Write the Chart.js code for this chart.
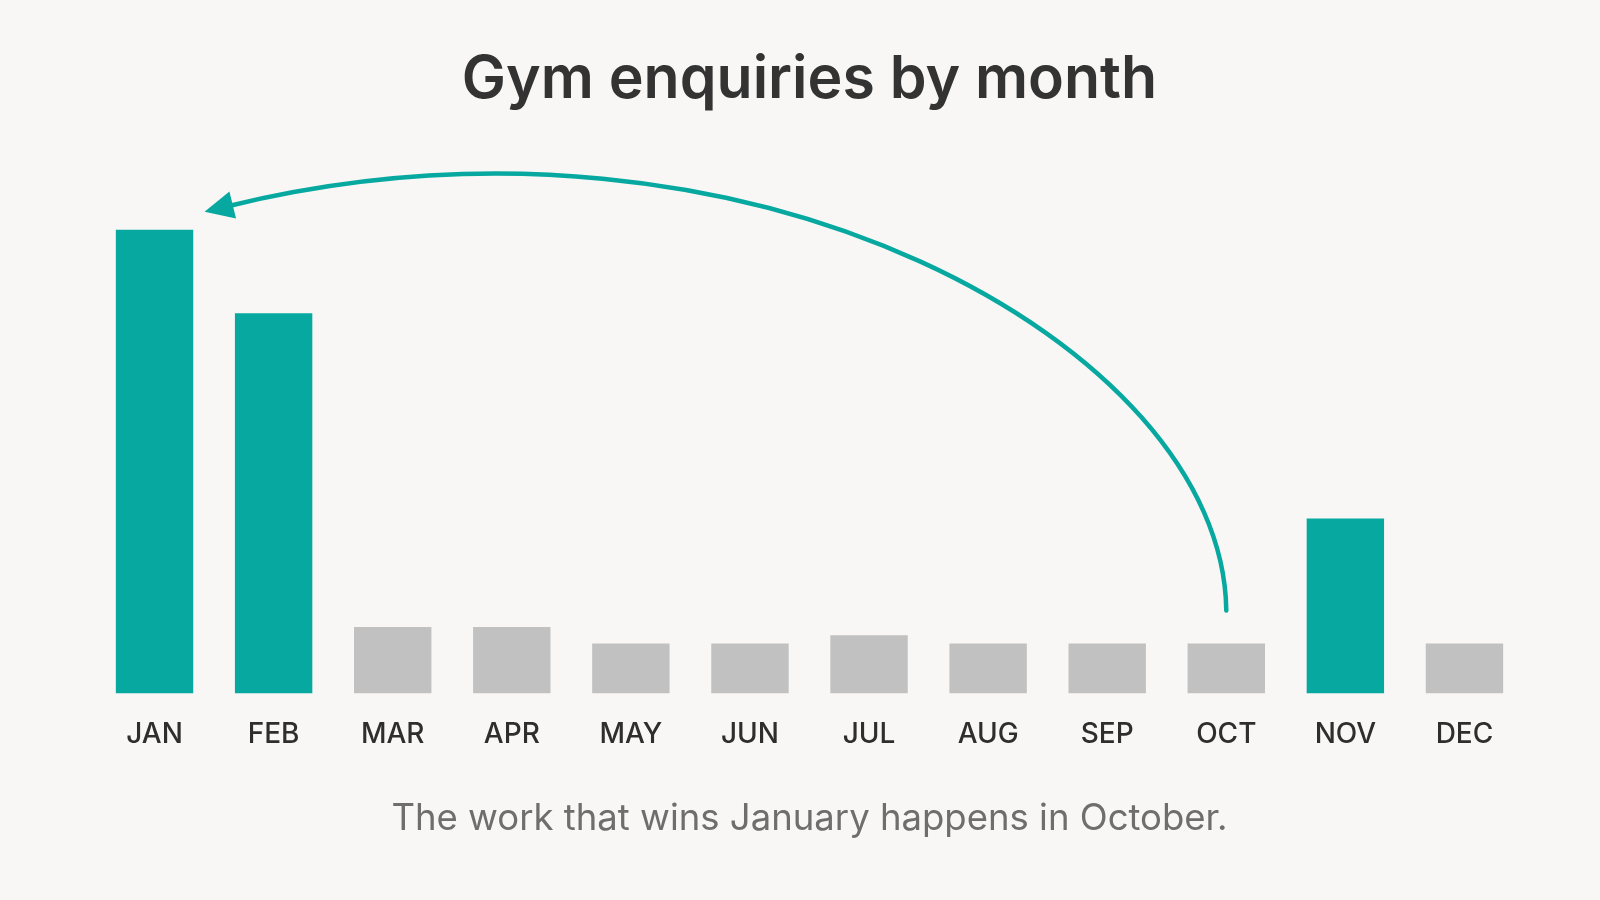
<!DOCTYPE html>
<html>
<head>
<meta charset="utf-8">
<script src="https://cdn.jsdelivr.net/npm/chart.js@4"></script>
<style>
  html, body { margin: 0; padding: 0; background: #f8f7f5; }
  #wrap { width: 1600px; height: 900px; }
</style>
</head>
<body>
<div id="wrap"><canvas id="gymChart" width="1600" height="900"></canvas></div>
<script>
// Monthly enquiries
const months = ["JAN", "FEB", "MAR", "APR", "MAY", "JUN", "JUL", "AUG", "SEP", "OCT", "NOV", "DEC"];
const enquiries = [278, 228, 40, 40, 30, 30, 35, 30, 30, 30, 105, 30];
const highlighted = [true, true, false, false, false, false, false, false, false, false, true, false];

const TEAL = "#06a8a0";
const GREY = "#c1c1c1";

// Curved arrow from October back to January
const arrowPlugin = {
    id: "octArrow",
    afterDatasetsDraw(chart) {
        const ctx = chart.ctx;
        const x = chart.scales.x;
        const y = chart.scales.y;
        const oct = months.indexOf("OCT");
        const jan = months.indexOf("JAN");
        const step = x.getPixelForValue(1) - x.getPixelForValue(0);

        const sx = x.getPixelForValue(oct);
        const sy = y.getPixelForValue(enquiries[oct]) - 33;
        const ex = x.getPixelForValue(jan) + step * 0.42;
        const ey = y.getPixelForValue(enquiries[jan]) - 18;

        const c1x = sx - 3, c1y = sy - 265;
        const c2x = sx - 480, c2y = ey - 132;

        ctx.save();
        ctx.strokeStyle = TEAL;
        ctx.fillStyle = TEAL;
        ctx.lineWidth = 4.5;
        ctx.lineCap = "round";

        // stop the line a bit before the tip so the head covers it
        const ang = Math.atan2(ey - c2y, ex - c2x);
        const headLen = 29, headW = 14;
        const bx = ex - Math.cos(ang) * (headLen - 4);
        const by = ey - Math.sin(ang) * (headLen - 4);

        ctx.beginPath();
        ctx.moveTo(sx, sy);
        ctx.bezierCurveTo(c1x, c1y, c2x, c2y, bx, by);
        ctx.stroke();

        ctx.beginPath();
        ctx.moveTo(ex, ey);
        ctx.lineTo(ex - Math.cos(ang) * headLen - Math.sin(ang) * headW,
                   ey - Math.sin(ang) * headLen + Math.cos(ang) * headW);
        ctx.lineTo(ex - Math.cos(ang) * headLen + Math.sin(ang) * headW,
                   ey - Math.sin(ang) * headLen - Math.cos(ang) * headW);
        ctx.closePath();
        ctx.fill();
        ctx.restore();
    }
};

new Chart(document.getElementById("gymChart"), {
    type: "bar",
    data: {
        labels: months,
        datasets: [{
            data: enquiries,
            backgroundColor: highlighted.map(h => h ? TEAL : GREY),
            borderWidth: 0,
            categoryPercentage: 1,
            barPercentage: 0.65
        }]
    },
    options: {
        responsive: false,
        animation: false,
        devicePixelRatio: 1,
        layout: { padding: { left: 95, right: 76, top: 0, bottom: 0 } },
        scales: {
            x: {
                grid: { display: false, drawTicks: false },
                border: { display: false },
                ticks: {
                    color: "#2e2e2e",
                    padding: 24,
                    font: { family: "Inter", size: 28, weight: "500" }
                }
            },
            y: {
                display: false,
                min: 0,
                max: 320
            }
        },
        plugins: {
            legend: { display: false },
            tooltip: { enabled: false },
            title: {
                display: true,
                text: "Gym enquiries by month",
                color: "#333333",
                font: { family: "Inter", size: 59, weight: "600" },
                padding: { top: 45, bottom: 44 }
            },
            subtitle: {
                display: true,
                position: "bottom",
                text: "The work that wins January happens in October.",
                color: "#6e6e6e",
                font: { family: "Inter", size: 36.5, weight: "normal" },
                padding: { top: 22, bottom: 59 }
            }
        }
    },
    plugins: [arrowPlugin]
});
</script>
</body>
</html>
